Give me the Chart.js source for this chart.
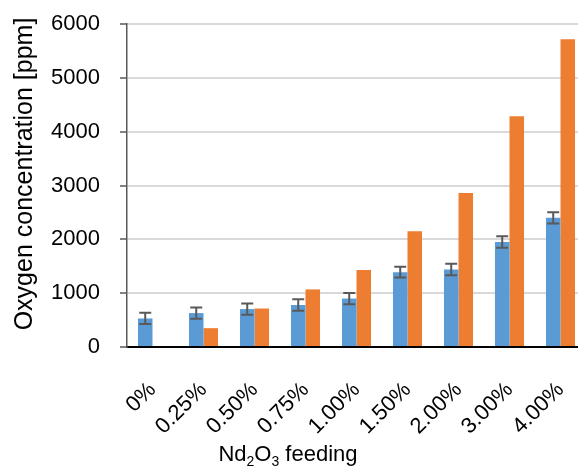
<!DOCTYPE html>
<html lang="en">
  <head>
    <meta charset="UTF-8" />
    <title>Oxygen concentration</title>
    <script src="https://cdn.jsdelivr.net/npm/chart.js@4"></script>
    <style>
      html, body { margin: 0; padding: 0; overflow: hidden; background: #fff; }
    </style>
  </head>
  <body>
    <canvas id="myChart" width="600" height="469"></canvas>
    <script>
      const labels = ["0%", "0.25%", "0.50%", "0.75%", "1.00%", "1.50%", "2.00%", "3.00%", "4.00%"];
      const blueValues = [530, 630, 705, 780, 900, 1390, 1440, 1950, 2400];
      const blueErrors = [105, 105, 105, 105, 105, 100, 105, 105, 105];
      const orangeValues = [null, 350, 715, 1070, 1430, 2150, 2860, 4285, 5715];
      const yTicks = [0, 1000, 2000, 3000, 4000, 5000, 6000];

      // error bars on the blue series
      const errorBars = {
        id: "errorBars",
        afterDatasetsDraw(chart) {
          const ctx = chart.ctx;
          const y = chart.scales.y;
          const meta = chart.getDatasetMeta(0);
          ctx.save();
          ctx.strokeStyle = "#595959";
          ctx.lineWidth = 2;
          meta.data.forEach((bar, i) => {
            const top = y.getPixelForValue(blueValues[i] + blueErrors[i]);
            const bot = y.getPixelForValue(blueValues[i] - blueErrors[i]);
            ctx.beginPath();
            ctx.moveTo(bar.x, top);
            ctx.lineTo(bar.x, bot);
            ctx.moveTo(bar.x - 6, top);
            ctx.lineTo(bar.x + 6, top);
            ctx.moveTo(bar.x - 6, bot);
            ctx.lineTo(bar.x + 6, bot);
            ctx.stroke();
          });
          ctx.restore();
        },
      };

      // axis titles (x title needs subscripts)
      const axisTitles = {
        id: "axisTitles",
        afterDraw(chart) {
          const ctx = chart.ctx;
          ctx.save();
          ctx.fillStyle = "#000";
          ctx.font = "25px 'Liberation Sans', Arial, sans-serif";
          ctx.translate(25, 174);
          ctx.rotate(-Math.PI / 2);
          ctx.textAlign = "center";
          ctx.textBaseline = "middle";
          ctx.fillText("Oxygen concentration [ppm]", 0, 0);
          ctx.restore();

          ctx.save();
          ctx.fillStyle = "#000";
          ctx.textBaseline = "alphabetic";
          const big = "22px 'Liberation Sans', Arial, sans-serif";
          const small = "14px 'Liberation Sans', Arial, sans-serif";
          const parts = [["Nd", big, 0], ["2", small, 5], ["O", big, 0], ["3", small, 5], [" feeding", big, 0]];
          let total = 0;
          parts.forEach((p) => { ctx.font = p[1]; total += ctx.measureText(p[0]).width; });
          let x = 288 - total / 2;
          parts.forEach((p) => {
            ctx.font = p[1];
            ctx.fillText(p[0], x, 461 + p[2]);
            x += ctx.measureText(p[0]).width;
          });
          ctx.restore();
        },
      };

      new Chart(document.getElementById("myChart"), {
        type: "bar",
        data: {
          labels: labels,
          datasets: [
            { label: "blue", data: blueValues, backgroundColor: "#5B9BD5" },
            { label: "orange", data: orangeValues, backgroundColor: "#ED7D31" },
          ],
        },
        options: {
          responsive: false,
          animation: false,
          categoryPercentage: 0.57,
          barPercentage: 1,
          layout: { padding: { top: 24, right: 14, left: 0, bottom: 0 } },
          plugins: { legend: { display: false }, tooltip: { enabled: false } },
          scales: {
            x: {
              afterFit: (s) => { s.height = 122; s.paddingLeft = 0; s.paddingRight = 0; },
              grid: { display: false },
              border: { display: true, color: "#000", width: 2 },
              ticks: {
                color: "#000",
                font: { family: "'Liberation Sans', Arial, sans-serif", size: 22 },
                minRotation: 45,
                maxRotation: 45,
                autoSkip: false,
                padding: 22,
              },
            },
            y: {
              min: 0,
              max: 6000,
              afterFit: (s) => { s.width = 127; s.paddingTop = 0; s.paddingBottom = 0; },
              afterBuildTicks: (s) => { s.ticks = yTicks.map((v) => ({ value: v })); },
              grid: { color: "#d9d9d9", lineWidth: 2, tickColor: "#595959", tickLength: 7, tickWidth: 1.5 },
              border: { display: true, color: "#595959", width: 1.5 },
              ticks: {
                color: "#000",
                font: { family: "'Liberation Sans', Arial, sans-serif", size: 22 },
                padding: 20,
                callback: (v) => String(v),
              },
            },
          },
        },
        plugins: [errorBars, axisTitles],
      });
    </script>
  </body>
</html>
